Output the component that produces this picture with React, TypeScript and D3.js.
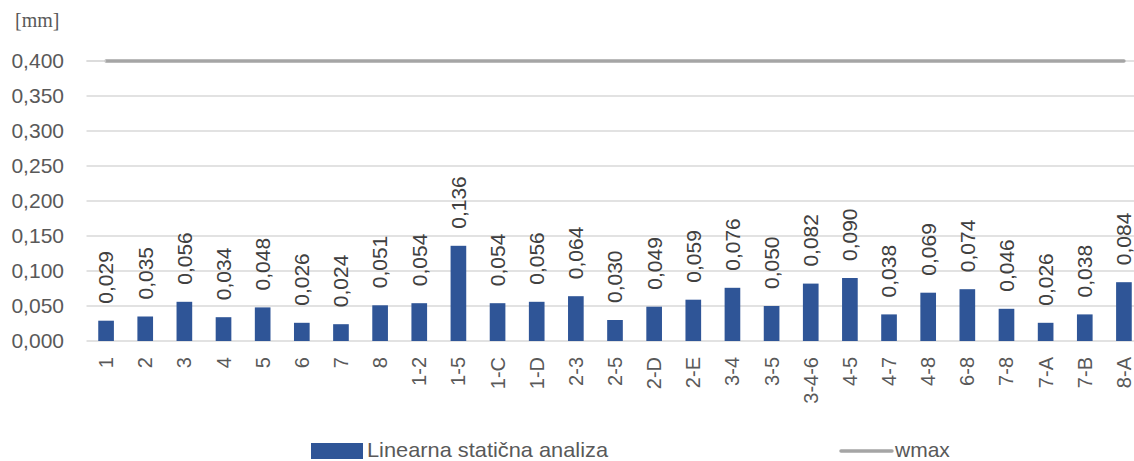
import React from "react";
import { scaleBand, scaleLinear, range } from "d3";

const categories = [
  "1", "2", "3", "4", "5", "6", "7", "8", "1-2", "1-5", "1-C", "1-D", "2-3", "2-5",
  "2-D", "2-E", "3-4", "3-5", "3-4-6", "4-5", "4-7", "4-8", "6-8", "7-8", "7-A", "7-B", "8-A",
];
const linearValues = [
  0.029, 0.035, 0.056, 0.034, 0.048, 0.026, 0.024, 0.051, 0.054, 0.136, 0.054, 0.056, 0.064,
  0.03, 0.049, 0.059, 0.076, 0.05, 0.082, 0.09, 0.038, 0.069, 0.074, 0.046, 0.026, 0.038, 0.084,
];
const wmaxValue = 0.4;
const yTicks = range(0, 9).map((i) => i * 0.05);

const fmt = (v: number) => v.toFixed(3).replace(".", ",");

const FONT = "'Liberation Sans', Arial, sans-serif";

export default function App() {
  const width = 1134;
  const height = 461;
  const left = 86.5;
  const right = 1143.5;
  const top = 61;
  const bottom = 341;

  const x = scaleBand<string>().domain(categories).range([left, right]).paddingInner(0.6).paddingOuter(0.3);
  const y = scaleLinear().domain([0, 0.4]).range([bottom, top]);
  const cx = (c: string) => (x(c) as number) + x.bandwidth() / 2;

  return (
    <svg
      width={width}
      height={height}
      style={{ position: "absolute", left: 0, top: 0, background: "#fff" }}
    >
      <text x={15} y={27} fontFamily="'Liberation Serif', 'Times New Roman', serif" fontSize={20} fill="#595959">
        [mm]
      </text>
      {yTicks.map((t) => (
        <g key={t}>
          <line x1={left} x2={right} y1={y(t)} y2={y(t)} stroke="#d9d9d9" strokeWidth={1.3} />
          <text x={64} y={y(t)} dy="0.35em" textAnchor="end" fontFamily={FONT} fontSize={21} fill="#595959">
            {fmt(t)}
          </text>
        </g>
      ))}
      {categories.map((c, i) => (
        <g key={c}>
          <rect
            x={x(c)}
            y={y(linearValues[i])}
            width={x.bandwidth()}
            height={y(0) - y(linearValues[i])}
            fill="#2f5597"
          />
          <text
            transform={`translate(${cx(c)},${y(linearValues[i]) - 17}) rotate(-90)`}
            dy="0.35em"
            textAnchor="start"
            fontFamily={FONT}
            fontSize={21}
            fill="#404040"
          >
            {fmt(linearValues[i])}
          </text>
          <text
            transform={`translate(${cx(c)},${bottom + 16}) rotate(-90)`}
            dy="0.35em"
            textAnchor="end"
            fontFamily={FONT}
            fontSize={20}
            fill="#595959"
          >
            {c}
          </text>
        </g>
      ))}
      <line
        x1={cx(categories[0])}
        x2={cx(categories[categories.length - 1])}
        y1={y(wmaxValue)}
        y2={y(wmaxValue)}
        stroke="#a5a5a5"
        strokeWidth={3.5}
        strokeLinecap="round"
      />
      <line x1={left} x2={cx(categories[0])} y1={y(wmaxValue)} y2={y(wmaxValue)} stroke="#d9d9d9" strokeWidth={1.3} />
      <g>
        <rect x={311} y={443} width={52} height={16} fill="#2f5597" />
        <text x={367} y={457} fontFamily={FONT} fontSize={21} fill="#595959" textLength={241} lengthAdjust="spacingAndGlyphs">
          Linearna statična analiza
        </text>
        <line x1={841} x2={892} y1={451} y2={451} stroke="#a5a5a5" strokeWidth={3.5} strokeLinecap="round" />
        <text x={895} y={457} fontFamily={FONT} fontSize={21} fill="#595959">
          wmax
        </text>
      </g>
    </svg>
  );
}
